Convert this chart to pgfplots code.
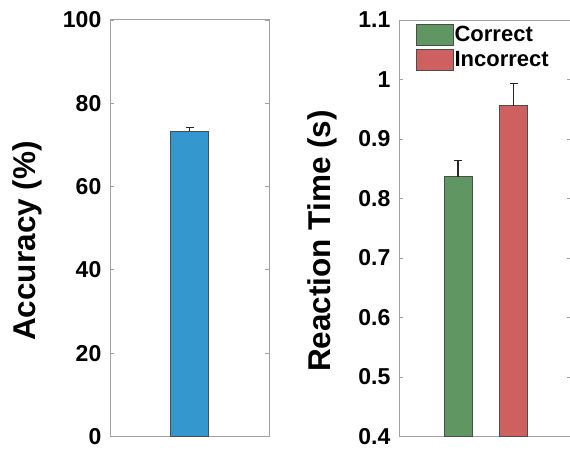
\documentclass[border=0pt]{standalone}
\usepackage{pgfplots}
\pgfplotsset{compat=1.18}
\usepackage{fontspec}
\setmainfont{Liberation Sans}

\definecolor{accblue}{RGB}{52,152,206}
\definecolor{corrgreen}{RGB}{95,150,97}
\definecolor{incred}{RGB}{206,96,96}
\definecolor{axgray}{RGB}{160,160,160}

\pgfplotsset{
  matlabstyle/.style={
    scale only axis,
    axis line style={axgray, line width=1pt},
    tick style={axgray, line width=0.8pt},
    major tick length=4pt,
    tick align=inside,
    ytick pos=both,
    xtick=\empty,
    tick label style={font=\fontsize{23}{26}\selectfont\bfseries},
    yticklabel style={inner sep=0pt, xshift=-8.5pt},
    ylabel style={font=\fontsize{31.5}{34}\selectfont\bfseries, anchor=center},
    /pgf/number format/assume math mode=true,
    /pgf/number format/fixed,
  },
  errstyle/.style={
    error bars/y dir=plus,
    error bars/y explicit,
    error bars/error bar style={black!85, line width=1.5pt},
    error bars/error mark options={black!85, line width=1.5pt, mark size=4pt, rotate=90},
  },
}

\begin{document}
\begin{tikzpicture}
\path[use as bounding box] (0pt,0pt) rectangle (570pt,450pt);

% Accuracy panel
\begin{axis}[
  matlabstyle,
  at={(110pt,13.5pt)}, anchor=south west,
  width=159pt, height=416.5pt,
  xmin=0, xmax=2,
  ymin=0, ymax=100,
  ytick={0,20,40,60,80,100},
  ylabel={Accuracy (\%)},
  ylabel style={at={(rel axis cs:-0.519,0.4694)}},
]
\addplot[ybar, bar width=0.48, fill=accblue, draw=black!70, line width=0.6pt,
  errstyle]
  coordinates {(1,73.3) +- (0,0.9)};
\end{axis}

% Reaction time panel
\begin{axis}[
  matlabstyle,
  at={(399pt,13.5pt)}, anchor=south west,
  width=172pt, height=416.5pt,
  xmin=-0.06, xmax=3.03,
  ymin=0.4, ymax=1.1,
  ytick={0.4,0.5,0.6,0.7,0.8,0.9,1,1.1},
  ylabel={Reaction Time (s)},
  ylabel style={at={(rel axis cs:-0.444,0.4694)}},
  legend style={
    draw=none, fill=none, inner sep=0pt, outer sep=0pt,
    at={(rel axis cs:0,1)}, anchor=north west, xshift=17pt, yshift=-4pt,
    font=\fontsize{22}{24}\selectfont\bfseries,
    row sep=3pt,
    /tikz/every even column/.append style={column sep=1pt},
    nodes={inner sep=1pt},
  },
  legend cell align=left,
  legend image code/.code={
    \draw[#1] (0pt,-10.5pt) rectangle (37pt,10.5pt);
  },
]
\addplot[ybar, bar width=0.5, fill=corrgreen, draw=black!70, line width=0.6pt,
  errstyle]
  coordinates {(1,0.8365) +- (0,0.0275)};
\addlegendentry{Correct}
\addplot[ybar, bar width=0.5, fill=incred, draw=black!70, line width=0.6pt,
  errstyle]
  coordinates {(2,0.956) +- (0,0.037)};
\addlegendentry{Incorrect}
\end{axis}
\end{tikzpicture}
\end{document}
